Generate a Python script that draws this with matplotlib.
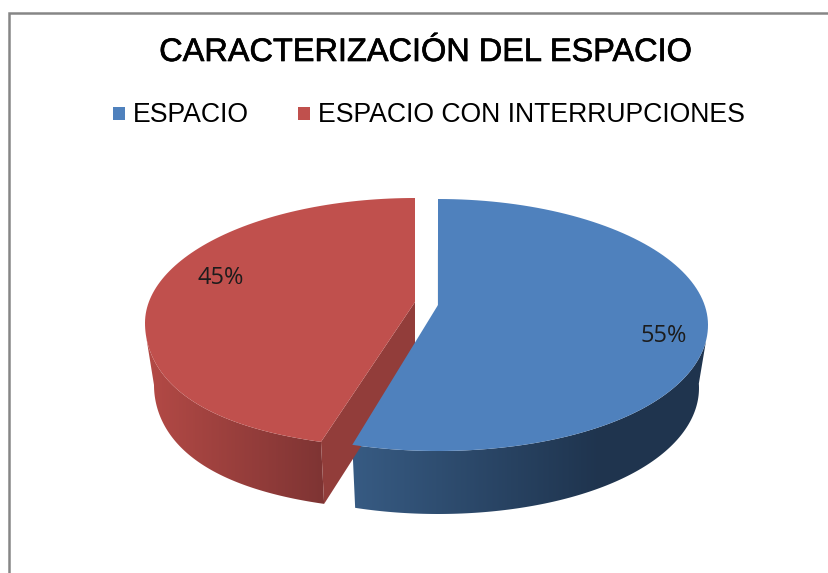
import matplotlib
matplotlib.use('Agg')
import matplotlib.pyplot as plt
from matplotlib.colors import LinearSegmentedColormap
from matplotlib.patches import Polygon, Rectangle
import matplotlib.patheffects as pe
import numpy as np


# Data
title = 'CARACTERIZACIÓN DEL ESPACIO'
categories = ['ESPACIO', 'ESPACIO CON INTERRUPCIONES']
values = [55, 45]


# Drawing styles, pixel geometry of the fake 3D pie
blue = '#4f81bd'
red = '#c0504d'
top_b = dict(cx=438, cy=325, rx=270, ry=126, k=0.03)
low_b = dict(cx=438, cy=388, rx=261, ry=126, k=0.03)
top_r = dict(cx=415, cy=323, rx=270, ry=125, k=0.14)
low_r = dict(cx=415, cy=385, rx=261, ry=125, k=0.14)
apex_b = (438, 305)
apex_r = (415, 302)


def rim(e, a, b):
    # angles are in degrees, clockwise from the top of the pie
    t = np.radians(np.linspace(a, b, 120))
    front = np.clip(-np.cos(t), 0, 1) ** 2
    x = e['cx'] + e['rx'] * np.sin(t) * (1 + e['k'] * front)
    y = e['cy'] - e['ry'] * np.cos(t)
    return np.column_stack([x, y])


def gradient_side(ax, poly, c0, c1, x0, x1):
    cmap = LinearSegmentedColormap.from_list('side', [c0, c1])
    ramp = np.clip((np.arange(829) - x0) / (x1 - x0), 0, 1)
    im = ax.imshow(ramp.reshape(1, -1), cmap=cmap, aspect='auto', vmin=0, vmax=1,
                   extent=(0, 829, 573, 0), zorder=2)
    patch = Polygon(poly, closed=True, transform=ax.transData, fc='none', ec='none')
    ax.add_patch(patch)
    im.set_clip_path(patch)


fig = plt.figure(figsize=(8.29, 5.73), dpi=100)
ax = fig.add_axes([0, 0, 1, 1])

split = 360 * values[0] / sum(values)

# Red slice, side first
side_r = np.vstack([rim(top_r, split, 264), rim(low_r, 270, split)])
gradient_side(ax, side_r, '#b44a46', '#7e3433', 145, 325)
tip_r = rim(top_r, split, split)[0]
tip_r_low = rim(low_r, split, split)[0]
ax.add_patch(Polygon([apex_r, tip_r, tip_r_low, (415, 362)], closed=True, fc='#923d3a', ec='none', zorder=3))
ax.add_patch(Polygon(np.vstack([[apex_r], rim(top_r, split, 360)]), closed=True, fc=red, ec='none', zorder=4))

# Blue slice
side_b = np.vstack([rim(top_b, 97, split), rim(low_b, split, 88)])
gradient_side(ax, side_b, '#375b83', '#1f344e', 352, 600)
ax.add_patch(Polygon(np.vstack([[apex_b], rim(top_b, 0, split)]), closed=True, fc=blue, ec='none', zorder=6))
ax.plot([438, 438], [250, 305], color='#1f344e', lw=0.8, zorder=5)

# Percent labels
label_font = ['Open Sans', 'DejaVu Sans']
ax.text(664, 336, f'{values[0]}%', ha='center', va='center', fontsize=17, family=label_font, color='#1c1c1c', zorder=8)
ax.text(221, 278, f'{values[1]}%', ha='center', va='center', fontsize=17, family=label_font, color='#1c1c1c', zorder=8)

# Title and legend
text_font = ['Liberation Sans', 'DejaVu Sans']
t = ax.text(425, 53, title, ha='center', va='center', fontsize=23.4, family=text_font, color='black')
t.set_path_effects([pe.withStroke(linewidth=0.5, foreground='black')])
ax.add_patch(Rectangle((113, 107), 12, 13, fc=blue, ec='none'))
ax.text(133, 115, categories[0], ha='left', va='center', fontsize=19.2, family=text_font, color='black')
ax.add_patch(Rectangle((298, 107), 12, 13, fc=red, ec='none'))
ax.text(318, 115, categories[1], ha='left', va='center', fontsize=19.2, family=text_font, color='black')

# Chart frame, it runs off the right and bottom of the picture
ax.plot([9.5, 9.5, 829], [573, 12.5, 12.5], color='#868686', lw=1.8, solid_joinstyle='miter')

ax.set_xlim(0, 829)
ax.set_ylim(573, 0)
ax.axis('off')

fig.savefig('out.png', dpi=100, facecolor='white')
